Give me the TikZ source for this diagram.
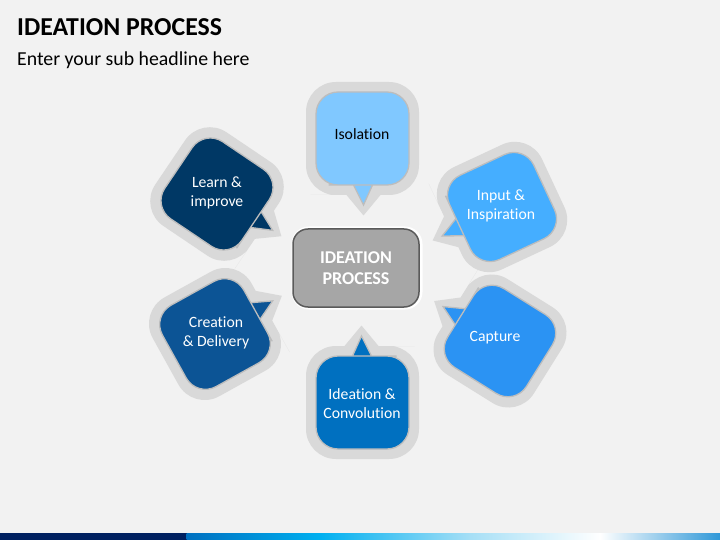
\documentclass[tikz,border=0pt]{standalone}
\usepackage{fontspec}
\setmainfont{Carlito}[Ligatures=NoCommon]
\definecolor{bgC}{HTML}{F2F2F2}
\definecolor{haloC}{HTML}{D9D9D9}
\definecolor{edgeC}{HTML}{BDBDBD}
\definecolor{isoC}{HTML}{80C8FF}
\definecolor{inpC}{HTML}{45AEFF}
\definecolor{capC}{HTML}{2B93F3}
\definecolor{ideC}{HTML}{0070C0}
\definecolor{creC}{HTML}{0C5495}
\definecolor{leaC}{HTML}{003865}
\definecolor{boxC}{HTML}{A6A6A6}
\definecolor{boxE}{HTML}{5A5A5A}
\definecolor{navyC}{HTML}{002060}
\tikzset{
  pics/bubble/.style={code={
    \fill[haloC] (24,56.5) [rounded corners=30] -- (56.5,56.5) -- (56.5,-56.5)
      -- (-56.5,-56.5) -- (-56.5,56.5) -- (-22,56.5) [sharp corners]
      -- (-16,56.5) -- (1,77) -- (18,56.5) -- cycle;
    \filldraw[fill=#1, draw=edgeC, line width=1.3] (16,46.5) [rounded corners=22]
      -- (46.5,46.5) -- (46.5,-46.5) -- (-46.5,-46.5) -- (-46.5,46.5)
      -- (-12,46.5) [sharp corners] -- (-9,46.5) -- (1,66.5) -- (10,46.5) -- cycle;
  }},
  btext/.style={text=white, align=center, inner sep=0,
    font=\fontsize{15.7}{19}\selectfont},
  centerbox/.style={fill=boxC, draw=boxE, line width=1.5, rounded corners=15,
    minimum width=126, minimum height=78, text=white, align=center,
    font=\bfseries\fontsize{18}{21}\selectfont},
}
\begin{document}
\begin{tikzpicture}[x=1pt,y=-1pt]
\useasboundingbox (0,0) rectangle (720,540);
\fill[bgC] (0,0) rectangle (720,540);
% title
\node[anchor=base west, inner sep=0, font=\bfseries\fontsize{25.8}{30}\selectfont] (title) at (17,36) {IDEATION PROCESS};
\node[anchor=base west, inner sep=0, font=\fontsize{19.8}{24}\selectfont] (sub) at (17,66) {Enter your sub headline here};
% bubbles
\pic[rotate=0] at (362.5,138.5) {bubble=isoC};
\pic[rotate=180] at (362.5,402.5) {bubble=ideC};
\pic[rotate=56] at (217,194) {bubble=leaC};
\pic[rotate=119] at (215,334) {bubble=creC};
\pic[rotate=295] at (502,207) {bubble=inpC};
\pic[rotate=238] at (500,341) {bubble=capC};
% texts
\node[btext, text=black] (iso) at (362,134) {Isolation};
\node[btext] (inp) at (501,206) {Input \&\\Inspiration};
\node[btext] (cap) at (495,338) {Capture};
\node[btext] (ide) at (362,404) {Ideation \&\\Convolution};
\node[btext] (cre) at (216,333) {Creation\\\& Delivery};
\node[btext] (lea) at (217,193) {Learn \&\\improve};
% center
\draw[white, line width=3, rounded corners=16] (293,228) rectangle (421,308);
\node[centerbox] (center) at (356,268) {IDEATION\\PROCESS};
% bottom bar
\fill[navyC] (0,533) rectangle (187,540);
\shade[left color=ideC, right color={rgb,255:red,0;green,176;blue,240}] (186.5,533) rectangle (320.5,540);
\shade[left color={rgb,255:red,0;green,176;blue,240}, right color={rgb,255:red,166;green,223;blue,246}] (320,533) rectangle (470.5,540);
\shade[left color={rgb,255:red,166;green,223;blue,246}, right color=white] (470,533) rectangle (600.5,540);
\shade[left color=white, right color={rgb,255:red,47;green,152;blue,216}] (600,533) rectangle (720,540);
\end{tikzpicture}
\end{document}
